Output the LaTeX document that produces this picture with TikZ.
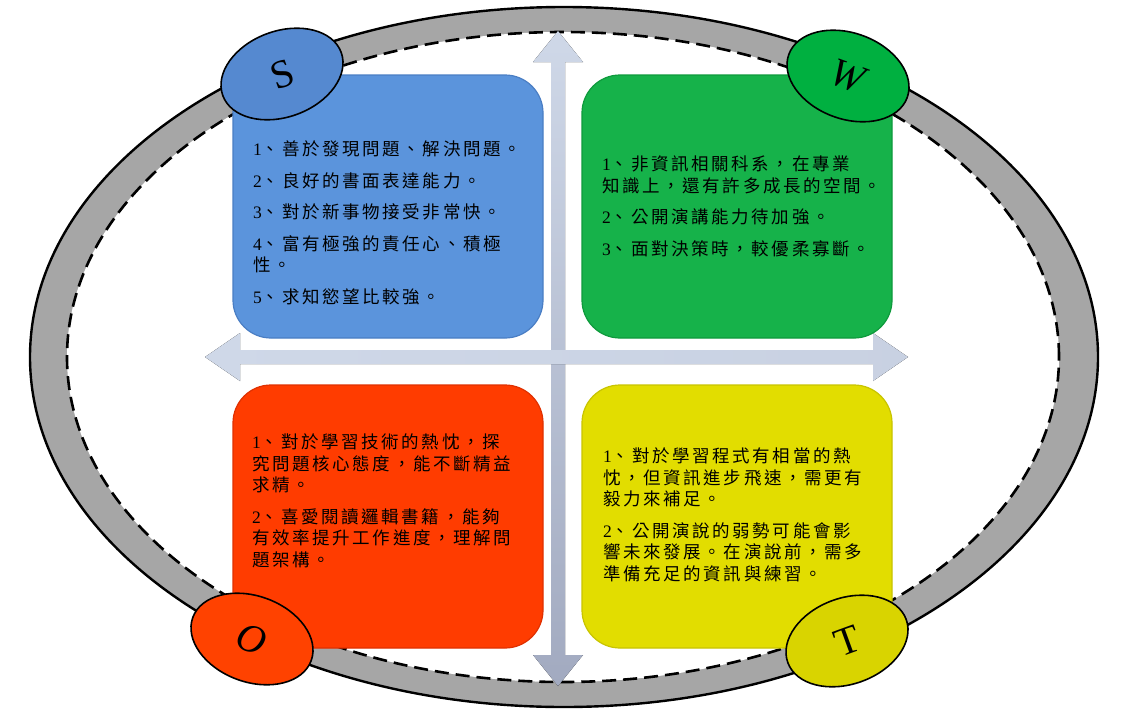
\documentclass[tikz,border=0pt]{standalone}
\usepackage{fontspec}
\setmainfont{Liberation Serif}
\newfontfamily\cjk{Noto Sans CJK TC}[LetterSpace=15]
\usetikzlibrary{shapes.geometric}
\definecolor{ringgray}{HTML}{A6A6A6}
\definecolor{sblue}{HTML}{5B94DC}
\definecolor{sbluedark}{HTML}{4A7EC4}
\definecolor{sell}{HTML}{5589D0}
\definecolor{wgreen}{HTML}{16B24A}
\definecolor{wgreendark}{HTML}{0E9A3C}
\definecolor{well}{HTML}{00B040}
\definecolor{ored}{HTML}{FF3C00}
\definecolor{oreddark}{HTML}{E03000}
\definecolor{oell}{HTML}{FF4200}
\definecolor{tyel}{HTML}{E2DD00}
\definecolor{tyeldark}{HTML}{C8C400}
\definecolor{tell}{HTML}{D9D400}
\definecolor{arrtop}{HTML}{CFD8E8}
\definecolor{arrbot}{HTML}{A2AAC0}
\newcommand\nd[1]{{\rmfamily #1}}
\tikzset{
  box/.style={rounded corners=38pt, minimum width=310pt, minimum height=263pt, inner sep=0pt, line width=1.2pt},
  badge/.style={ellipse, draw=black, line width=1.6pt, minimum width=126pt, minimum height=86pt, inner sep=0pt, font=\fontsize{40}{40}\selectfont},
  txt/.style={anchor=north west, align=left, inner sep=0pt, font=\cjk\fontsize{17.5}{21.5}\selectfont, text=black},
  arrowbody/.style={top color=arrtop, bottom color=arrbot, draw=none},
}
\begin{document}
\begin{tikzpicture}[x=1pt,y=-1pt]
\useasboundingbox (0,0) rectangle (1121,723);
% ring
\filldraw[fill=ringgray, draw=black, line width=2.4pt] (564,357) ellipse [x radius=534pt, y radius=350pt];
\fill[white] (563,357) ellipse [x radius=496pt, y radius=325pt];
\draw[black, line width=2.6pt, dash pattern=on 14pt off 7pt] (563,357) ellipse [x radius=496pt, y radius=325pt];
% arrows
\fill[arrowbody] (558,31) -- (583,62) -- (565,62) -- (565,655) -- (583,655) -- (558,686) -- (533,655) -- (551,655) -- (551,62) -- (533,62) -- cycle;
\fill[left color=arrtop, right color=arrtop!85!arrbot] (205,357) -- (240,333) -- (240,350) -- (873,350) -- (873,333) -- (908,357) -- (873,381) -- (873,364) -- (240,364) -- (240,381) -- cycle;
% boxes
\node[box, fill=sblue, draw=sbluedark] (S) at (388,206.5) {};
\node[box, fill=wgreen, draw=wgreendark] (W) at (737,206.5) {};
\node[box, fill=ored, draw=oreddark] (O) at (388,516.5) {};
\node[box, fill=tyel, draw=tyeldark] (T) at (737,516.5) {};
% texts
\node[txt] (St) at (253,141) {\nd{1}、善於發現問題、解決問題。\\[10pt]
\nd{2}、良好的書面表達能力。\\[10pt]
\nd{3}、對於新事物接受非常快。\\[10pt]
\nd{4}、富有極強的責任心、積極\\
性。\\[10pt]
\nd{5}、求知慾望比較強。};
\node[txt] (Wt) at (602,156) {\nd{1}、非資訊相關科系，在專業\\
知識上，還有許多成長的空間。\\[10pt]
\nd{2}、公開演講能力待加強。\\[10pt]
\nd{3}、面對決策時，較優柔寡斷。};
\node[txt] (Ot) at (252,434) {\nd{1}、對於學習技術的熱忱，探\\
究問題核心態度，能不斷精益\\
求精。\\[10pt]
\nd{2}、喜愛閱讀邏輯書籍，能夠\\
有效率提升工作進度，理解問\\
題架構。};
\node[txt] (Tt) at (603,448) {\nd{1}、對於學習程式有相當的熱\\
忱，但資訊進步飛速，需更有\\
毅力來補足。\\[10pt]
\nd{2}、公開演說的弱勢可能會影\\
響未來發展。在演說前，需多\\
準備充足的資訊與練習。};
% badges
\node[badge, fill=sell, rotate=20] (Sb) at (282,74) {S};
\node[badge, fill=well, rotate=-20] (Wb) at (848,76) {\itshape W};
\node[badge, fill=oell, rotate=-20] (Ob) at (252,639) {\itshape O};
\node[badge, fill=tell, rotate=20] (Tb) at (847,641) {T};
\end{tikzpicture}
\end{document}
